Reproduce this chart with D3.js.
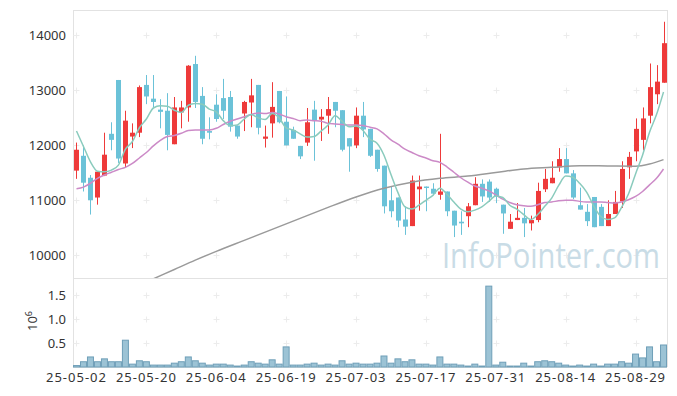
<!DOCTYPE html>
<html>
<head>
<meta charset="utf-8">
<script src="https://cdn.jsdelivr.net/npm/d3@7/dist/d3.min.js"></script>
<style>
  body { margin: 0; background: #fff; }
  text { font-family: "Noto Sans", "DejaVu Sans", sans-serif; }
</style>
</head>
<body>
<div id="chart"></div>
<script>
// trading days shown on the chart
var dates = ["25-05-02","25-05-07","25-05-08","25-05-09","25-05-12","25-05-13","25-05-14","25-05-15","25-05-16","25-05-19",
  "25-05-20","25-05-21","25-05-22","25-05-23","25-05-26","25-05-27","25-05-28","25-05-29","25-05-30","25-06-02",
  "25-06-04","25-06-05","25-06-09","25-06-10","25-06-11","25-06-12","25-06-13","25-06-16","25-06-17","25-06-18",
  "25-06-19","25-06-20","25-06-23","25-06-24","25-06-25","25-06-26","25-06-27","25-06-30","25-07-01","25-07-02",
  "25-07-03","25-07-04","25-07-07","25-07-08","25-07-09","25-07-10","25-07-11","25-07-14","25-07-15","25-07-16",
  "25-07-17","25-07-18","25-07-21","25-07-22","25-07-23","25-07-24","25-07-25","25-07-28","25-07-29","25-07-30",
  "25-07-31","25-08-01","25-08-04","25-08-05","25-08-06","25-08-07","25-08-08","25-08-11","25-08-12","25-08-13",
  "25-08-14","25-08-18","25-08-19","25-08-20","25-08-21","25-08-22","25-08-25","25-08-26","25-08-27","25-08-28",
  "25-08-29","25-09-01","25-09-02","25-09-03","25-09-04"];

var opens = [11540,11810,11410,11050,11450,12210,13190,11670,12160,12230,
  13100,12850,12650,12630,12020,12600,12690,13480,12900,12260,
  12740,12860,12880,12360,12580,12780,13100,12120,12400,12990,
  12430,12280,11990,12050,12650,12470,12540,12790,12640,12130,
  12000,12540,12300,11920,11630,11000,11050,10650,10530,11200,
  11250,11210,11100,11160,10810,10610,10710,10910,11300,11340,
  11210,10920,10480,10640,10680,10580,10640,11200,11310,11600,
  11750,11490,10910,10790,11060,10880,10530,10750,10980,11600,
  11890,12100,12540,12930,13140];

var highs = [12050,12000,11460,11520,12230,12420,13190,12630,12400,13090,
  13280,13280,12840,12950,12880,12810,13460,13630,13060,12510,
  12930,13210,12990,12360,12810,13210,13100,12360,13150,12990,
  12890,12340,11990,12680,12810,12660,12880,12790,12640,12130,
  12690,12790,12300,11920,11630,11250,11050,10890,11450,11450,
  11250,11310,12210,11160,10810,10800,10950,11420,11380,11380,
  11230,10920,10750,10950,10860,10720,11320,11570,11710,11950,
  11950,11550,11230,10930,11060,10930,11000,11170,11710,11880,
  12490,12690,13490,13460,14250];

var lows = [11390,11160,10740,10920,11440,11910,11680,11600,11950,12150,
  12750,12690,12310,11910,12020,12310,12430,12680,12020,12110,
  12430,12480,12250,12120,12260,12330,12200,11960,12140,12400,
  12000,12120,11750,11990,11720,12080,12210,12330,11890,11520,
  11950,12150,11790,11520,10760,10690,10510,10370,10530,10810,
  10800,11090,11010,10710,10330,10370,10510,10910,10970,10970,
  10950,10390,10480,10640,10330,10450,10600,11150,11310,11520,
  11490,11020,10830,10530,10510,10530,10530,10750,10860,11390,
  11710,11910,12400,12750,13140];

var closes = [11920,11320,11000,11520,11830,12100,11760,12450,12230,13060,
  12890,12790,12610,12190,12690,12690,13450,12790,12120,12230,
  12480,12630,12340,12160,12790,12910,12320,12160,12700,12420,
  12000,12120,11800,12420,12450,12520,12660,12630,11920,11980,
  12540,12290,11810,11570,10890,10800,10630,10520,11360,11250,
  11230,11120,11160,10800,10540,10580,10890,11300,11070,11050,
  11070,10760,10610,10680,10580,10640,11170,11390,11410,11750,
  11490,11050,10830,10620,10510,10530,10750,10970,11570,11790,
  12300,12490,13060,13160,13860];

// volume, millions of shares
var volume = [0.03,0.11,0.21,0.11,0.17,0.11,0.11,0.56,0.06,0.13,
  0.11,0.04,0.04,0.04,0.08,0.11,0.21,0.13,0.08,0.04,
  0.06,0.06,0.04,0.02,0.04,0.11,0.08,0.06,0.15,0.06,
  0.42,0.04,0.04,0.06,0.08,0.04,0.06,0.04,0.13,0.06,
  0.08,0.06,0.06,0.08,0.23,0.08,0.17,0.11,0.15,0.06,
  0.06,0.04,0.21,0.06,0.06,0.04,0.02,0.06,0.02,1.69,
  0.04,0.10,0.02,0.02,0.08,0.02,0.11,0.13,0.11,0.08,
  0.04,0.02,0.04,0.02,0.06,0.02,0.06,0.06,0.11,0.08,
  0.27,0.19,0.42,0.11,0.46];

// moving averages
var ma5 = [12260,11980,11700,11530,11520,11550,11640,11930,12070,12320,
  12480,12680,12720,12710,12640,12600,12730,12760,12750,12660,
  12610,12450,12360,12370,12480,12560,12500,12470,12580,12500,
  12320,12280,12210,12150,12160,12260,12370,12540,12440,12340,
  12350,12270,12110,12040,11820,11470,11140,10880,10840,10910,
  11000,11090,11220,11110,10970,10840,10790,10820,10880,10980,
  11080,11050,10910,10840,10740,10650,10740,10890,11040,11270,
  11440,11420,11310,11150,10900,10710,10650,10680,10870,11120,
  11480,11820,12240,12560,12970];

var ma20 = [11210,11240,11310,11400,11460,11510,11560,11600,11670,11770,
  11870,11990,12090,12160,12180,12220,12270,12280,12280,12280,
  12310,12380,12440,12480,12520,12560,12590,12580,12600,12570,
  12520,12490,12450,12460,12450,12440,12400,12390,12380,12370,
  12370,12360,12330,12300,12210,12100,12020,11930,11870,11810,
  11770,11720,11690,11610,11510,11410,11330,11260,11220,11170,
  11100,11020,10960,10920,10900,10890,10920,10960,10970,10990,
  11000,11000,10980,10970,10970,10970,10960,10950,10970,11010,
  11070,11160,11280,11400,11570];

// long average: bar index and value
var maLongIdx = [11,14,17,20,24,28,32,36,40,44,48,52,56,60,64,68,72,76,80,82,84];
var maLongVal = [9570,9740,9910,10070,10270,10470,10670,10870,11060,11220,11330,11400,11440,11505,11570,11600,11630,11625,11620,11660,11740];

var priceTicks = [10000,11000,12000,13000,14000];
var volTicks = [0.5,1.0,1.5];
var labelIdx = [0,10,20,30,40,50,60,70,80];

var width = 677, height = 396;
var pLeft = 73, pRight = 667, pTop = 10, pMid = 278, pBottom = 367;

var svg = d3.select("#chart").append("svg")
  .attr("width", width)
  .attr("height", height);

var x = d3.scaleBand().domain(d3.range(dates.length)).range([pLeft, pRight]).padding(0);
var bw = x.bandwidth();
function cx(i) { return x(i) + bw / 2; }

var y = d3.scaleLinear().domain([9585, 14464]).range([pMid, pTop]);
var yv = d3.scaleLinear().domain([0, 1.86]).range([pBottom, pMid]);

svg.append("clipPath").attr("id", "clip")
  .append("rect").attr("x", pLeft).attr("y", pTop).attr("width", pRight - pLeft).attr("height", pMid - pTop);

// frame
var frame = svg.append("g").attr("stroke", "#e2e2e2").attr("stroke-width", 1);
frame.append("line").attr("x1", pLeft).attr("x2", pRight).attr("y1", pTop + 0.5).attr("y2", pTop + 0.5);
frame.append("line").attr("x1", pLeft).attr("x2", pRight).attr("y1", pMid + 0.5).attr("y2", pMid + 0.5);
frame.append("line").attr("x1", pLeft).attr("x2", pRight).attr("y1", pBottom + 0.5).attr("y2", pBottom + 0.5);
frame.append("line").attr("x1", pLeft + 0.5).attr("x2", pLeft + 0.5).attr("y1", pTop).attr("y2", pBottom);
frame.append("line").attr("x1", pRight + 0.5).attr("x2", pRight + 0.5).attr("y1", pTop).attr("y2", pBottom);

// little plus marks as grid
var grid = svg.append("g").attr("stroke", "#ececec").attr("stroke-width", 1);
function plus(px, py) {
  px = Math.round(px) + 0.5; py = Math.round(py) + 0.5;
  grid.append("line").attr("x1", px - 3).attr("x2", px + 3).attr("y1", py).attr("y2", py);
  grid.append("line").attr("x1", px).attr("x2", px).attr("y1", py - 3).attr("y2", py + 3);
}
labelIdx.forEach(function(i) {
  priceTicks.forEach(function(p) { plus(cx(i), y(p)); });
  volTicks.forEach(function(v) { plus(cx(i), yv(v)); });
});

// watermark
svg.append("text")
  .attr("x", 442).attr("y", 268)
  .attr("textLength", 218)
  .attr("lengthAdjust", "spacingAndGlyphs")
  .style("font-family", "'Open Sans', sans-serif")
  .style("font-size", "34px")
  .style("fill", "#c9dce6")
  .text("InfoPointer.com");

// candles
var candles = svg.append("g").attr("clip-path", "url(#clip)")
  .selectAll("g").data(d3.range(dates.length)).enter().append("g")
  .attr("class", "candle");

function col(i) { return closes[i] >= opens[i] ? "#ee3a3a" : "#6bc2d8"; }

candles.append("line")
  .attr("x1", function(i) { return Math.round(cx(i)) + 0.5; })
  .attr("x2", function(i) { return Math.round(cx(i)) + 0.5; })
  .attr("y1", function(i) { return y(highs[i]); })
  .attr("y2", function(i) { return y(lows[i]); })
  .attr("stroke", col);

candles.append("rect")
  .attr("x", function(i) { return Math.round(cx(i)) - 2; })
  .attr("width", 5)
  .attr("y", function(i) { return y(Math.max(opens[i], closes[i])); })
  .attr("height", function(i) { return Math.max(1.5, Math.abs(y(opens[i]) - y(closes[i]))); })
  .attr("fill", col);

// moving average lines
var lines = svg.append("g").attr("clip-path", "url(#clip)").attr("fill", "none");

var line = d3.line()
  .x(function(d) { return cx(d[0]); })
  .y(function(d) { return y(d[1]); })
  .curve(d3.curveMonotoneX);

lines.append("path")
  .attr("d", line(maLongIdx.map(function(d, k) { return [d, maLongVal[k]]; })))
  .attr("stroke", "#9a9a9a").attr("stroke-width", 1.5);
lines.append("path")
  .attr("d", line(ma20.map(function(v, i) { return [i, v]; })))
  .attr("stroke", "#cc8ac7").attr("stroke-width", 1.5);
lines.append("path")
  .attr("d", line(ma5.map(function(v, i) { return [i, v]; })))
  .attr("stroke", "#8acbbd").attr("stroke-width", 1.5);

// volume bars
svg.append("g").selectAll("rect").data(d3.range(dates.length)).enter().append("rect")
  .attr("x", function(i) { return x(i) + 0.5; })
  .attr("width", bw - 1)
  .attr("y", function(i) { return yv(volume[i]); })
  .attr("height", function(i) { return pBottom - yv(volume[i]); })
  .attr("fill", "#9cc3d5")
  .attr("stroke", "#6f9fb8")
  .attr("stroke-width", 1);

// axes
var yAxis = d3.axisLeft(y).tickValues(priceTicks).tickSize(0).tickPadding(7)
  .tickFormat(d3.format("d"));
var vAxis = d3.axisLeft(yv).tickValues(volTicks).tickSize(0).tickPadding(7)
  .tickFormat(d3.format(".1f"));
var xAxis = d3.axisBottom(x).tickValues(labelIdx).tickSize(0).tickPadding(6)
  .tickFormat(function(i) { return dates[i]; });

function style(g) {
  g.select(".domain").remove();
  g.selectAll("text").style("font-size", "13px").style("fill", "#333")
    .style("font-family", "'Noto Sans', sans-serif");
}

svg.append("g").attr("transform", "translate(" + pLeft + ",0)").call(yAxis).call(style);
svg.append("g").attr("transform", "translate(" + pLeft + ",0)").call(vAxis).call(style);
svg.append("g").attr("transform", "translate(0," + pBottom + ")").call(xAxis).call(style)
  .selectAll("text").style("letter-spacing", "1px");

// exponent label for the volume axis
var exp = svg.append("text")
  .attr("transform", "translate(37,331) rotate(-90)")
  .style("font-size", "13px")
  .style("fill", "#333");
exp.append("tspan").text("10");
exp.append("tspan").attr("dy", -5).style("font-size", "9px").text("6");
</script>
</body>
</html>
